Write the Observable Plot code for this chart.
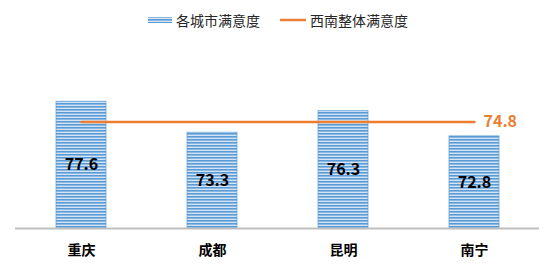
<!DOCTYPE html>
<html>
<head>
<meta charset="utf-8">
<script src="https://cdn.jsdelivr.net/npm/d3@7"></script>
<script src="https://cdn.jsdelivr.net/npm/@observablehq/plot@0.6"></script>
<style>
  body { margin: 0; background: #fff; font-family: "Noto Sans CJK SC", "Noto Sans", sans-serif; }
  #legend { height: 40px; display: flex; justify-content: center; align-items: center; font-size: 14px; color: #262626; padding-left: 2px; box-sizing: border-box; }
  .item { display: flex; align-items: center; }
  .item + .item { margin-left: 20px; }
  .sw { margin-right: 4px; }
</style>
</head>
<body>
<div id="legend">
  <div class="item"><svg class="sw" width="24" height="8"><defs><pattern id="lstripes" width="4" height="3" patternUnits="userSpaceOnUse"><rect width="4" height="3" fill="#d2e4f5"/><rect width="4" height="1.6" fill="#5b9bd5"/></pattern></defs><rect x="0" y="1" width="24" height="6" fill="url(#lstripes)"/></svg><span id="l1"></span></div>
  <div class="item"><svg class="sw" width="26" height="8"><line x1="0" x2="26" y1="4" y2="4" stroke="#ed7d31" stroke-width="2.5"/></svg><span id="l2"></span></div>
</div>
<div id="chart"></div>
<script>
const cities = ["重庆", "成都", "昆明", "南宁"];
const cityValues = [77.6, 73.3, 76.3, 72.8];
const overallValue = 74.8;
const seriesNames = ["各城市满意度", "西南整体满意度"];
const yDomain = [60, 80];

document.getElementById("l1").textContent = seriesNames[0];
document.getElementById("l2").textContent = seriesNames[1];

const data = cities.map((c, i) => ({city: c, value: cityValues[i], overall: overallValue}));
const last = data[data.length - 1];

const chart = Plot.plot({
  width: 554,
  height: 228,
  marginLeft: 14,
  marginRight: 14,
  marginTop: 44,
  marginBottom: 40,
  style: {fontFamily: "'Noto Sans CJK SC', sans-serif", background: "white"},
  x: {domain: cities, paddingInner: 0.62, paddingOuter: 0.31, label: null},
  y: {domain: yDomain, axis: null},
  marks: [
    Plot.barY(data, {x: "city", y1: yDomain[0], y2: "value", fill: "url(#stripes)", stroke: "#5b9bd5", strokeWidth: 1, strokeOpacity: 0.7}),
    Plot.ruleY([yDomain[0]], {stroke: "#bfbfbf", strokeWidth: 2, insetLeft: 1, insetRight: 1}),
    Plot.line(data, {x: "city", y: "overall", stroke: "#ed7d31", strokeWidth: 2.5}),
    Plot.text(data, {x: "city", y: d => (d.value + yDomain[0]) / 2, text: d => d.value.toFixed(1), fontSize: 16, fontWeight: "bold", fill: "#000"}),
    Plot.text([last], {x: "city", y: "overall", text: d => d.overall.toFixed(1), fontSize: 16, fontWeight: "bold", fill: "#ed7d31", textAnchor: "start", dx: 9}),
    Plot.axisX({tickSize: 0, tickPadding: 17, fontSize: 14, fontWeight: "bold", color: "#000", label: null})
  ]
});

const defs = d3.create("svg:defs");
const pat = defs.append("pattern").attr("id", "stripes").attr("width", 4).attr("height", 3).attr("patternUnits", "userSpaceOnUse");
pat.append("rect").attr("width", 4).attr("height", 3).attr("fill", "#d2e4f5");
pat.append("rect").attr("width", 4).attr("height", 1.6).attr("fill", "#5b9bd5");
chart.insertBefore(defs.node(), chart.firstChild);

document.getElementById("chart").appendChild(chart);
</script>
</body>
</html>
